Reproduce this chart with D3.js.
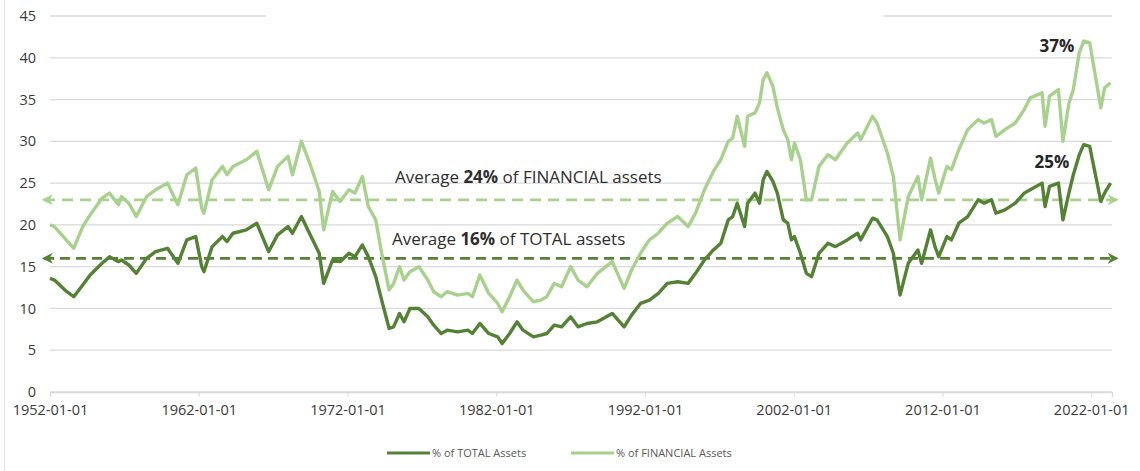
<!DOCTYPE html>
<html lang="en">
<head>
  <meta charset="UTF-8">
  <title>Equity share of household assets</title>
  <script src="https://d3js.org/d3.v7.min.js"></script>
  <style>
    body { margin: 0; background: #fff; }
    text { font-family: "Open Sans", "Liberation Sans", sans-serif; }
  </style>
</head>
<body>
  <svg width="1140" height="471"></svg>

  <script>
    // quarter-ish sample dates (decimal years)
    const years = [
      1952.0, 1952.3, 1953.0, 1953.6, 1954.2, 1954.7, 1955.5, 1956.0, 1956.6, 1956.8,
      1957.3, 1957.8, 1958.5, 1959.1, 1959.9, 1960.6, 1961.2, 1961.8, 1962.2, 1962.35,
      1962.9, 1963.6, 1963.9, 1964.3, 1965.2, 1965.9, 1966.7, 1967.3, 1968.0, 1968.3,
      1968.9, 1969.5, 1970.1, 1970.4, 1971.0, 1971.5, 1972.1, 1972.5, 1973.0, 1973.4,
      1973.9, 1974.3, 1974.8, 1975.1, 1975.5, 1975.8, 1976.2, 1976.8, 1977.4, 1977.8,
      1978.3, 1978.7, 1979.4, 1980.1, 1980.4, 1980.9, 1981.5, 1982.1, 1982.4, 1982.9,
      1983.4, 1983.8, 1984.5, 1985.0, 1985.4, 1985.9, 1986.4, 1987.0, 1987.5, 1988.1,
      1988.8, 1989.8, 1990.6, 1991.1, 1991.7, 1992.3, 1992.9, 1993.5, 1994.2, 1994.9,
      1995.4, 1996.0, 1996.6, 1997.1, 1997.6, 1997.9, 1998.2, 1998.7, 1998.9, 1999.4,
      1999.7, 1999.95, 2000.2, 2000.6, 2000.9, 2001.3, 2001.6, 2001.85, 2002.05, 2002.45,
      2002.85, 2003.2, 2003.7, 2004.3, 2004.8, 2005.6, 2006.3, 2006.5, 2007.3, 2007.6,
      2008.3, 2008.7, 2009.15, 2009.7, 2010.35, 2010.6, 2011.2, 2011.5, 2011.75, 2012.3,
      2012.6, 2013.1, 2013.7, 2014.4, 2014.8, 2015.3, 2015.6, 2016.2, 2016.9, 2017.5,
      2017.9, 2018.7, 2018.9, 2019.2, 2019.8, 2020.1, 2020.5, 2020.8, 2021.2, 2021.5,
      2021.9, 2022.65, 2022.9, 2023.3
    ];

    // % of TOTAL assets
    const totalPct = [
      13.6, 13.4, 12.2, 11.4, 12.8, 14.0, 15.4, 16.2, 15.6, 15.8,
      15.2, 14.2, 16.0, 16.8, 17.2, 15.4, 18.2, 18.6, 15.0, 14.4,
      17.4, 18.6, 18.0, 19.0, 19.4, 20.2, 16.8, 18.8, 19.8, 19.0,
      21.0, 18.8, 16.6, 13.0, 15.8, 15.6, 16.6, 16.2, 17.6, 16.2,
      13.8, 11.0, 7.6, 7.8, 9.4, 8.4, 10.0, 10.0, 9.0, 8.0,
      7.0, 7.4, 7.2, 7.4, 7.0, 8.2, 7.0, 6.6, 5.8, 7.0,
      8.4, 7.4, 6.6, 6.8, 7.0, 8.0, 7.8, 9.0, 7.8, 8.2,
      8.4, 9.4, 7.8, 9.2, 10.6, 11.0, 11.8, 13.0, 13.2, 13.0,
      14.2, 15.8, 17.0, 17.8, 20.6, 21.0, 22.6, 19.8, 22.6, 23.8,
      22.6, 25.4, 26.4, 25.2, 23.8, 20.6, 20.2, 18.2, 18.6, 16.6,
      14.2, 13.8, 16.6, 17.8, 17.4, 18.2, 19.0, 18.2, 20.8, 20.6,
      18.6, 16.6, 11.6, 15.4, 17.0, 15.4, 19.4, 17.4, 16.2, 18.6,
      18.2, 20.2, 21.0, 23.0, 22.6, 23.0, 21.4, 21.8, 22.6, 23.8,
      24.2, 25.0, 22.2, 24.6, 25.0, 20.6, 23.8, 26.0, 28.4, 29.6,
      29.4, 22.8, 23.8, 25.0
    ];

    // % of FINANCIAL assets
    const financialPct = [
      20.0, 19.8, 18.4, 17.2, 19.8, 21.2, 23.2, 23.8, 22.4, 23.4,
      22.6, 21.0, 23.4, 24.2, 25.0, 22.4, 26.0, 26.8, 22.0, 21.4,
      25.4, 27.0, 26.0, 27.0, 27.8, 28.8, 24.2, 27.0, 28.2, 26.0,
      30.0, 27.2, 24.0, 19.4, 24.0, 22.8, 24.2, 23.8, 25.8, 22.2,
      20.6, 16.6, 12.2, 13.0, 15.0, 13.4, 14.4, 15.0, 13.4, 12.0,
      11.4, 12.0, 11.6, 11.8, 11.4, 14.0, 11.8, 10.6, 9.6, 11.4,
      13.4, 12.2, 10.8, 11.0, 11.4, 13.0, 12.6, 15.0, 13.4, 12.6,
      14.2, 15.6, 12.4, 14.6, 16.6, 18.2, 19.0, 20.2, 21.0, 19.8,
      21.4, 24.2, 26.4, 27.8, 30.0, 30.4, 33.0, 29.4, 33.0, 33.4,
      34.6, 37.4, 38.2, 36.6, 34.0, 31.4, 30.2, 27.8, 29.8, 27.8,
      23.0, 23.0, 27.0, 28.4, 27.8, 29.8, 31.0, 30.2, 33.0, 32.2,
      28.6, 25.8, 18.2, 23.4, 25.8, 23.0, 28.0, 25.5, 23.8, 27.0,
      26.6, 29.0, 31.4, 32.6, 32.2, 32.6, 30.6, 31.4, 32.2, 33.8,
      35.2, 35.8, 31.8, 35.4, 36.2, 30.0, 34.5, 36.2, 40.6, 42.0,
      41.8, 34.0, 36.4, 37.0
    ];

    const xTickYears = [1952, 1962, 1972, 1982, 1992, 2002, 2012, 2022];
    const yTicks = [0, 5, 10, 15, 20, 25, 30, 35, 40, 45];

    const avgTotal = 16;
    const avgFinancial = 23;

    const darkGreen = "#548235";
    const lightGreen = "#a9d18e";

    const svg = d3.select("svg");

    const x = d3.scaleLinear().domain([1952, 2023.4]).range([50, 1112]);
    const y = d3.scaleLinear().domain([0, 45]).range([392, 16]);

    // frame edge on the left
    svg.append("line")
        .attr("x1", 4.5).attr("x2", 4.5)
        .attr("y1", 0).attr("y2", 471)
        .attr("stroke", "#e3e3e3");

    // gridlines
    svg.append("g")
        .selectAll("line")
        .data(yTicks)
        .enter().append("line")
        .attr("x1", x(1952)).attr("x2", x(2023.4))
        .attr("y1", d => y(d)).attr("y2", d => y(d))
        .attr("stroke", "#d9d9d9")
        .attr("stroke-width", 1.3);

    // a title box was pasted over the top gridline in the original
    svg.append("rect")
        .attr("x", 266).attr("y", y(45) - 6)
        .attr("width", 618).attr("height", 12)
        .attr("fill", "#fff");

    // y axis labels
    const yAxis = svg.append("g")
        .attr("transform", "translate(36,0)")
        .call(d3.axisLeft(y).tickValues(yTicks).tickSize(0).tickPadding(0));
    yAxis.select(".domain").remove();
    yAxis.selectAll("text")
        .attr("font-family", "Open Sans, sans-serif")
        .attr("font-size", 14.5)
        .attr("fill", "#3a3a3a");

    // x axis
    const xAxis = svg.append("g")
        .attr("transform", `translate(0,${y(0)})`)
        .call(d3.axisBottom(x)
            .tickValues(xTickYears)
            .tickFormat(d => d + "-01-01")
            .tickSize(5)
            .tickPadding(8));
    xAxis.select(".domain").attr("stroke", "#d9d9d9").attr("stroke-width", 1.3);
    xAxis.selectAll(".tick line").attr("stroke", "#d9d9d9");
    xAxis.selectAll("text")
        .attr("font-family", "Open Sans, sans-serif")
        .attr("font-size", 14.5)
        .attr("fill", "#3a3a3a");

    // arrow markers for the average lines
    const defs = svg.append("defs");
    [["darkArrow", darkGreen], ["lightArrow", lightGreen]].forEach(([id, col]) => {
      defs.append("marker")
          .attr("id", id + "End")
          .attr("viewBox", "0 0 10 10")
          .attr("refX", 8).attr("refY", 5)
          .attr("markerWidth", 11).attr("markerHeight", 11)
          .attr("markerUnits", "userSpaceOnUse")
          .attr("orient", "auto")
        .append("path")
          .attr("d", "M0,0 L10,5 L0,10 L3,5 Z")
          .attr("fill", col);
      defs.append("marker")
          .attr("id", id + "Start")
          .attr("viewBox", "0 0 10 10")
          .attr("refX", 2).attr("refY", 5)
          .attr("markerWidth", 11).attr("markerHeight", 11)
          .attr("markerUnits", "userSpaceOnUse")
          .attr("orient", "auto")
        .append("path")
          .attr("d", "M10,0 L0,5 L10,10 L7,5 Z")
          .attr("fill", col);
    });

    const avgLines = [
      { v: avgFinancial, col: lightGreen, id: "lightArrow", dash: "11,7" },
      { v: avgTotal, col: darkGreen, id: "darkArrow", dash: "10,6" }
    ];

    svg.append("g")
        .selectAll("line")
        .data(avgLines)
        .enter().append("line")
        .attr("x1", x(1951.6)).attr("x2", x(2023.7))
        .attr("y1", d => y(d.v)).attr("y2", d => y(d.v))
        .attr("stroke", d => d.col)
        .attr("stroke-width", 2.8)
        .attr("stroke-dasharray", d => d.dash)
        .attr("marker-start", d => `url(#${d.id}Start)`)
        .attr("marker-end", d => `url(#${d.id}End)`);

    // series lines
    const line = d3.line()
        .x(d => x(d[0]))
        .y(d => y(d[1]));

    const series = [
      { name: "% of FINANCIAL Assets", values: financialPct, col: lightGreen },
      { name: "% of TOTAL Assets", values: totalPct, col: darkGreen }
    ];

    svg.append("g")
        .selectAll("path")
        .data(series)
        .enter().append("path")
        .attr("d", d => line(years.map((yr, i) => [yr, d.values[i]])))
        .attr("fill", "none")
        .attr("stroke", d => d.col)
        .attr("stroke-width", 3.4)
        .attr("stroke-linejoin", "round");

    // annotations
    const notes = [
      { xPos: 395, yPos: 183, pre: "Average ", bold: "24%", post: " of FINANCIAL assets" },
      { xPos: 392, yPos: 245, pre: "Average ", bold: "16%", post: " of TOTAL assets" }
    ];
    notes.forEach(n => {
      const t = svg.append("text")
          .attr("x", n.xPos).attr("y", n.yPos)
          .attr("font-size", 17)
          .attr("fill", "#2e2e2e");
      t.append("tspan").text(n.pre);
      t.append("tspan").attr("font-weight", 700).text(n.bold);
      t.append("tspan").text(n.post);
    });

    const peakLabels = [
      { label: "37%", xPos: 1057, yPos: 52 },
      { label: "25%", xPos: 1052, yPos: 168 }
    ];
    svg.append("g")
        .selectAll("text")
        .data(peakLabels)
        .enter().append("text")
        .attr("x", d => d.xPos).attr("y", d => d.yPos)
        .attr("text-anchor", "middle")
        .attr("font-size", 17)
        .attr("font-weight", 700)
        .attr("fill", "#262626")
        .text(d => d.label);

    // legend
    const legend = svg.append("g").attr("transform", "translate(387,453)");
    const legendItems = [
      { name: "% of TOTAL Assets", col: darkGreen, off: 0 },
      { name: "% of FINANCIAL Assets", col: lightGreen, off: 184 }
    ];
    legendItems.forEach(d => {
      legend.append("line")
          .attr("x1", d.off).attr("x2", d.off + 43)
          .attr("y1", 0).attr("y2", 0)
          .attr("stroke", d.col)
          .attr("stroke-width", 3);
      legend.append("text")
          .attr("x", d.off + 45).attr("y", 4)
          .attr("font-size", 11)
          .attr("fill", "#595959")
          .text(d.name);
    });
  </script>
</body>
</html>
